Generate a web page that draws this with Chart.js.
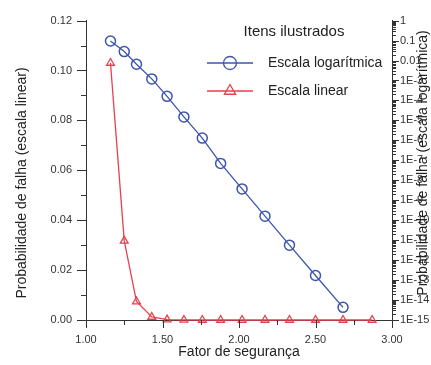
<!DOCTYPE html>
<html>
<head>
<meta charset="utf-8">
<script src="https://cdn.jsdelivr.net/npm/chart.js@4/dist/chart.umd.min.js"></script>
<style>
  html, body { margin: 0; padding: 0; background: #fff; }
  #grafico_falha { display: block; }
</style>
</head>
<body>
<canvas id="grafico_falha" width="431" height="365"></canvas>
<script>
// dados
const fatores = [1.16, 1.25, 1.33, 1.43, 1.53, 1.64, 1.76, 1.88, 2.02, 2.17, 2.33, 2.50, 2.68, 2.87];
const probLinear = [0.103, 0.0317, 0.0074, 0.0012, 0.00016, 0.000015, 0.0000013, 0, 0, 0, 0, 0, 0, 0];
const probLog = [0.095, 0.028, 0.0065, 0.0012, 1.6e-4, 1.5e-5, 1.3e-6, 7e-8, 3.7e-9, 1.6e-10, 5.6e-12, 1.7e-13, 4.3e-15];

const ticksX = [1.0, 1.5, 2.0, 2.5, 3.0];
const ticksLinear = [0, 0.02, 0.04, 0.06, 0.08, 0.10, 0.12];
const ticksLog = [1, 1e-1, 1e-2, 1e-3, 1e-4, 1e-5, 1e-6, 1e-7, 1e-8, 1e-9, 1e-10, 1e-11, 1e-12, 1e-13, 1e-14, 1e-15];
const rotulosLog = ['1', '0.1', '0.01', '1E-3', '1E-4', '1E-5', '1E-6', '1E-7', '1E-8', '1E-9', '1E-10', '1E-11', '1E-12', '1E-13', '1E-14', '1E-15'];

const azul = '#3d55ab';
const vermelho = '#e5414e';
const corEixo = '#333';
const fonte = '"Liberation Sans", Arial, sans-serif';

// traços dos eixos (principais e secundários), títulos e legenda
const extras = {
    id: 'extras',
    afterDraw(chart) {
        const ctx = chart.ctx;
        const sx = chart.scales.x, sy = chart.scales.y, s2 = chart.scales.y2;
        ctx.save();
        ctx.strokeStyle = corEixo;
        ctx.lineWidth = 1;
        ctx.beginPath();
        // eixo x
        [1, 1.25, 1.5, 1.75, 2, 2.25, 2.5, 2.75, 3].forEach((v, i) => {
            const px = Math.round(sx.getPixelForValue(v)) + 0.5;
            ctx.moveTo(px, sx.top); ctx.lineTo(px, sx.top + (i % 2 ? 5 : 8));
        });
        // eixo linear
        for (let i = 0; i <= 12; i++) {
            const py = Math.round(sy.getPixelForValue(i / 100)) + 0.5;
            ctx.moveTo(sy.right, py); ctx.lineTo(sy.right - (i % 2 ? 5 : 9), py);
        }
        // eixo logarítmico
        ticksLog.forEach(v => {
            const py = Math.round(s2.getPixelForValue(v)) + 0.5;
            ctx.moveTo(s2.left, py); ctx.lineTo(s2.left + 7, py);
        });
        for (let d = -15; d < 0; d++) {
            for (let k = 2; k <= 9; k++) {
                const py = Math.round(s2.getPixelForValue(k * Math.pow(10, d))) + 0.5;
                ctx.moveTo(s2.left, py); ctx.lineTo(s2.left + 4, py);
            }
        }
        ctx.stroke();

        ctx.fillStyle = '#222';
        ctx.textAlign = 'center';
        ctx.textBaseline = 'middle';
        ctx.font = '14px ' + fonte;
        ctx.fillText('Fator de segurança', 239, 352);

        ctx.save();
        ctx.translate(22, 183);
        ctx.rotate(-Math.PI / 2);
        ctx.fillText('Probabilidade de falha (escala linear)', 0, 0);
        ctx.restore();

        ctx.save();
        ctx.translate(423, 163);
        ctx.rotate(-Math.PI / 2);
        ctx.fillText('Probabilidade de falha (escala logarítmica)', 0, 0);
        ctx.restore();

        // legenda
        ctx.font = '15px ' + fonte;
        ctx.fillText('Itens ilustrados', 294, 32);
        ctx.textAlign = 'left';
        ctx.font = '14px ' + fonte;
        chart.data.datasets.forEach((ds, i) => {
            const y = 63 + i * 28;
            ctx.strokeStyle = ds.borderColor;
            ctx.lineWidth = 1.3;
            ctx.beginPath();
            ctx.moveTo(207, y); ctx.lineTo(253, y);
            ctx.stroke();
            ctx.fillStyle = 'rgba(0,0,0,0)';
            Chart.helpers.drawPoint(ctx, {
                pointStyle: ds.pointStyle, radius: 6.5, rotation: 0, borderWidth: 1.5
            }, 230, y);
            ctx.fillStyle = '#222';
            ctx.fillText(ds.label, 268, y);
        });
        ctx.restore();
    }
};

const ctx = document.getElementById('grafico_falha').getContext('2d');
new Chart(ctx, {
    type: 'line',
    data: {
        datasets: [{
            label: 'Escala logarítmica',
            data: probLog.map((p, i) => ({ x: fatores[i], y: p })),
            yAxisID: 'y2',
            borderColor: azul,
            borderWidth: 1.3,
            pointStyle: 'circle',
            pointRadius: 5,
            pointBorderWidth: 1.5,
            pointBorderColor: azul,
            pointBackgroundColor: 'rgba(0,0,0,0)',
            fill: false,
            clip: false,
        }, {
            label: 'Escala linear',
            data: probLinear.map((p, i) => ({ x: fatores[i], y: p })),
            yAxisID: 'y',
            borderColor: vermelho,
            borderWidth: 1.3,
            pointStyle: 'triangle',
            pointRadius: 4.5,
            pointBorderWidth: 1.3,
            pointBorderColor: vermelho,
            pointBackgroundColor: 'rgba(0,0,0,0)',
            fill: false,
            clip: false,
        }],
    },
    options: {
        responsive: false,
        animation: false,
        layout: { padding: { top: 13, left: 0, right: 0, bottom: 0 } },
        plugins: { legend: { display: false }, tooltip: { enabled: false } },
        scales: {
            x: {
                type: 'linear',
                min: 1, max: 3,
                afterBuildTicks: s => { s.ticks = ticksX.map(v => ({ value: v })); },
                afterFit: s => { s.height = 45; },
                ticks: {
                    callback: v => Number(v).toFixed(2),
                    font: { family: fonte, size: 11 },
                    color: '#333',
                    padding: 13,
                    maxRotation: 0,
                },
                grid: { display: false, drawTicks: false },
                border: { color: corEixo, width: 1 },
            },
            y: {
                type: 'linear',
                position: 'left',
                min: 0, max: 0.12,
                afterBuildTicks: s => { s.ticks = ticksLinear.map(v => ({ value: v })); },
                afterFit: s => { s.width = 86; },
                ticks: {
                    callback: v => Number(v).toFixed(2),
                    font: { family: fonte, size: 11 },
                    color: '#333',
                    padding: 14,
                },
                grid: { display: false, drawTicks: false },
                border: { color: corEixo, width: 1 },
            },
            y2: {
                type: 'logarithmic',
                position: 'right',
                min: 1e-15, max: 1,
                afterBuildTicks: s => { s.ticks = ticksLog.map(v => ({ value: v })); },
                afterFit: s => { s.width = 39; },
                ticks: {
                    callback: v => rotulosLog[Math.round(-Math.log10(v))],
                    font: { family: fonte, size: 11 },
                    color: '#333',
                    padding: 8,
                    autoSkip: false,
                },
                grid: { display: false, drawTicks: false },
                border: { color: corEixo, width: 1 },
            },
        },
    },
    plugins: [extras],
});
</script>
</body>
</html>
